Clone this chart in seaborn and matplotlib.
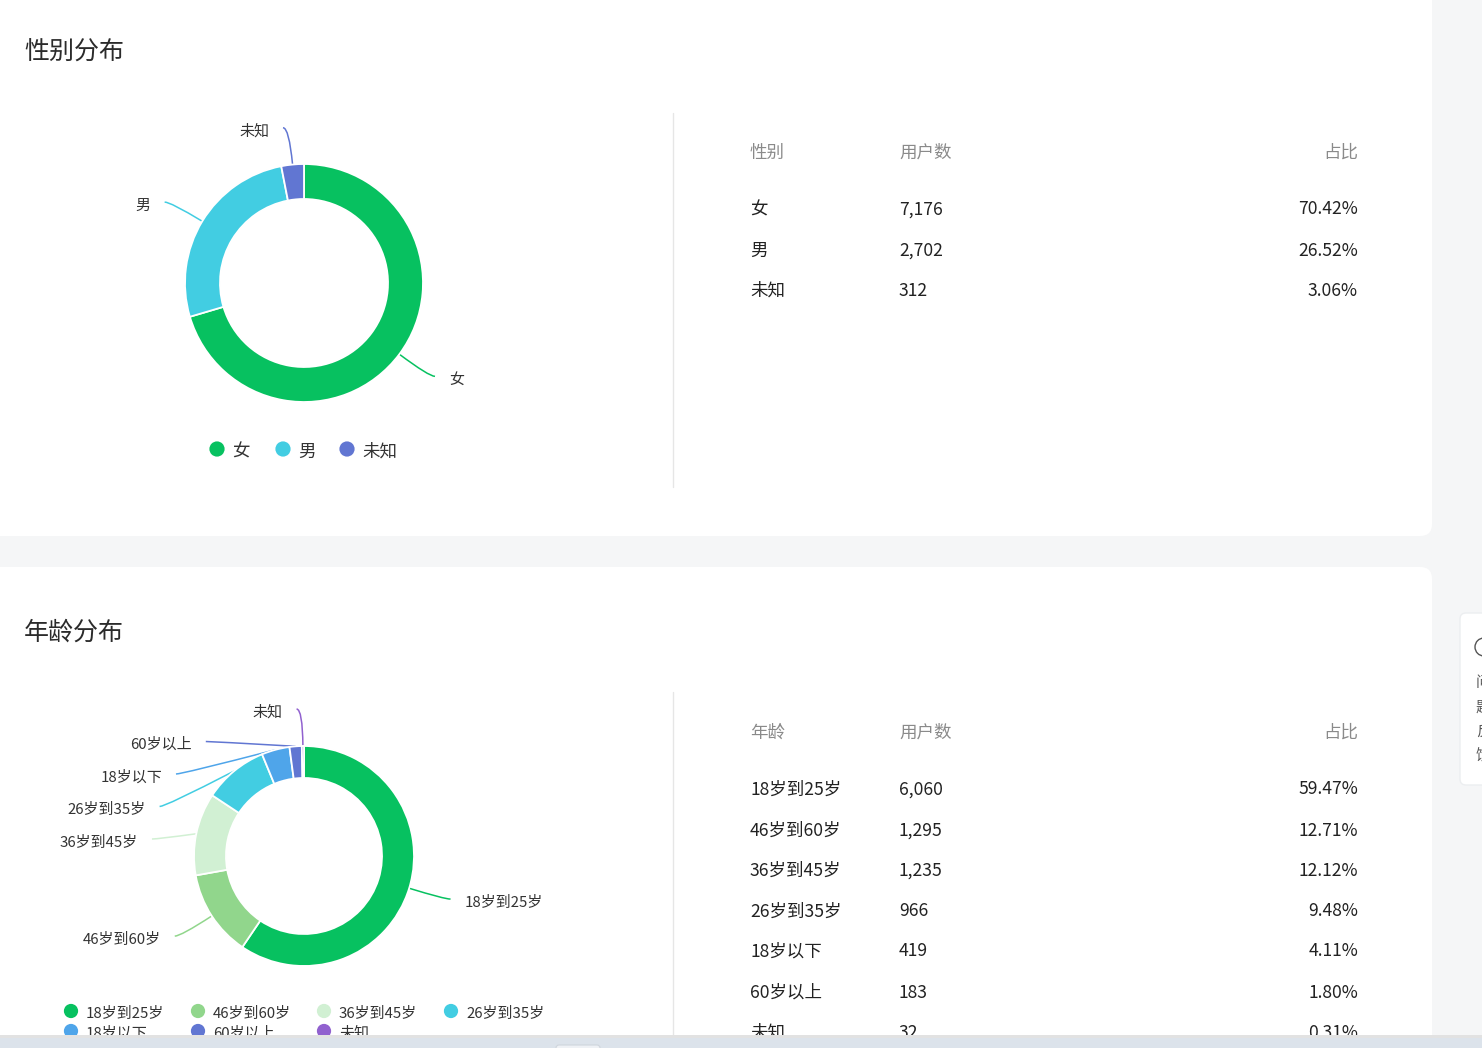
import numpy as np
import matplotlib
matplotlib.use("Agg")
import matplotlib.pyplot as plt
import seaborn as sns
from matplotlib.patches import FancyBboxPatch, Rectangle, PathPatch
from matplotlib.path import Path

# ---------------- data ----------------
gender_labels = ["女", "男", "未知"]
gender_counts = [7176, 2702, 312]
gender_pct = ["70.42%", "26.52%", "3.06%"]
gender_colors = ["#07c160", "#42cde2", "#6176d2"]

age_labels = ["18岁到25岁", "46岁到60岁", "36岁到45岁", "26岁到35岁", "18岁以下", "60岁以上", "未知"]
age_counts = [6060, 1295, 1235, 966, 419, 183, 32]
age_pct = ["59.47%", "12.71%", "12.12%", "9.48%", "4.11%", "1.80%", "0.31%"]
age_colors = ["#07c160", "#91d68c", "#d1f0d3", "#42cde2", "#4fa5ea", "#6176d2", "#9161cf"]

W, H = 1482, 1048
sns.set_theme(style="white")
plt.rcParams["font.family"] = ["Noto Sans CJK SC", "DejaVu Sans"]

fig = plt.figure(figsize=(W / 100, H / 100), dpi=100)
fig.patch.set_facecolor("#f5f6f7")
ax = fig.add_axes([0, 0, 1, 1])
ax.set_facecolor("#f5f6f7")

PX = 0.72  # px -> pt
DY = 2.5   # text baseline nudge


def card(y0, y1):
    ax.add_patch(FancyBboxPatch((-30, y0), 1432 + 30, y1 - y0,
                                boxstyle="round,pad=0,rounding_size=12",
                                fc="white", ec="none", zorder=0))


card(-40, 536)
card(567, 1100)

# feedback widget on the right edge
ax.add_patch(FancyBboxPatch((1460, 613), 60, 172, boxstyle="round,pad=0,rounding_size=6",
                            fc="white", ec="#eceef0", lw=1, zorder=1))
ax.add_patch(matplotlib.patches.Circle((1484, 647), 9, fc="none", ec="#555555", lw=1, zorder=2))
for i, ch in enumerate(["问", "题", "反", "馈"]):
    ax.text(1476, 681 + i * 24 + DY, ch, fontsize=15 * PX, color="#555555",
            ha="left", va="center", zorder=2)

# separators
ax.plot([673, 673], [113, 487], color="#e6e6e6", lw=1, zorder=1)
ax.plot([673, 673], [692, 1040], color="#e6e6e6", lw=1, zorder=1)

# titles
ax.text(24, 50 + DY, "性别分布", fontsize=25 * PX, color="#2b2b2b", ha="left", va="center")
ax.text(24, 630 + DY, "年龄分布", fontsize=25 * PX, color="#2b2b2b", ha="left", va="center")


def donut(cx, cy, r, r_in, vals, labels, colors, L1=37, L2=6, gap=32.5, fs=15):
    wedges, _ = ax.pie(vals, colors=colors, radius=r, center=(cx, cy), startangle=-90,
                       counterclock=True, frame=True,
                       wedgeprops=dict(width=r - r_in, edgecolor="white", linewidth=1.3))
    for w in wedges:
        w.set_zorder(3)
    tot = float(sum(vals))
    cum = np.cumsum([0] + list(vals)) / tot
    mids = (cum[:-1] + cum[1:]) / 2
    ang = np.deg2rad(90 - 360 * mids)
    R2 = r + L1
    items = []
    for i, a in enumerate(ang):
        side = 1 if np.cos(a) > 0 else -1
        ny = cy - R2 * np.sin(a)
        items.append([i, a, side, ny])
    # push overlapping labels apart on each side
    for side in (1, -1):
        grp = sorted([it for it in items if it[2] == side], key=lambda t: t[3])
        prev = -1e9
        for it in grp:
            it[3] = max(it[3], prev + gap)
            prev = it[3]
    for i, a, side, y in items:
        ax_ = cx + r * np.cos(a)
        ay = cy - r * np.sin(a)
        dy = y - cy
        bx = cx + side * np.sqrt(max(R2 ** 2 - dy ** 2, 0))
        ex = bx + side * L2
        path = Path([(ax_, ay), (bx, y), (ex, y)], [Path.MOVETO, Path.CURVE3, Path.CURVE3])
        ax.add_patch(PathPatch(path, fc="none", ec=colors[i], lw=1.1, zorder=2))
        ax.text(ex + side * 14, y + DY + 1, labels[i], fontsize=fs * PX, color="#333333",
                ha="left" if side > 0 else "right", va="center", zorder=4)


donut(304, 283, 119, 84, gender_counts, gender_labels, gender_colors)
donut(304, 856, 110, 78, age_counts, age_labels, age_colors)

# legends
leg_g = [(217, 449), (283, 449), (347, 449)]
sns.scatterplot(x=[p[0] for p in leg_g], y=[p[1] for p in leg_g], hue=gender_labels,
                palette=gender_colors, s=120, edgecolor="none", legend=False, ax=ax, zorder=4)
for (x, y), lab in zip(leg_g, gender_labels):
    ax.text(x + 15, y + DY, lab, fontsize=17.5 * PX, color="#333333", ha="left", va="center")

col_x = [71, 198, 324, 451]
leg_a = [(col_x[i % 4], 1011 + 20 * (i // 4)) for i in range(len(age_labels))]
sns.scatterplot(x=[p[0] for p in leg_a], y=[p[1] for p in leg_a], hue=age_labels,
                palette=age_colors, s=105, edgecolor="none", legend=False, ax=ax, zorder=4)
for (x, y), lab in zip(leg_a, age_labels):
    ax.text(x + 15, y + DY, lab, fontsize=15 * PX, color="#333333", ha="left", va="center")


# tables
def table(head, y_head, y_rows, names, counts, pcts):
    hc = "#8a8a8a"
    ax.text(750, y_head + DY, head, fontsize=17.5 * PX, color=hc, ha="left", va="center")
    ax.text(899, y_head + DY, "用户数", fontsize=17.5 * PX, color=hc, ha="left", va="center")
    ax.text(1358, y_head + DY, "占比", fontsize=17.5 * PX, color=hc, ha="right", va="center")
    for y, n, c, p in zip(y_rows, names, counts, pcts):
        ax.text(750, y + DY, n, fontsize=17.5 * PX, color="#222222", ha="left", va="center")
        ax.text(899, y + DY, f"{c:,}", fontsize=17.5 * PX, color="#222222", ha="left", va="center")
        ax.text(1358, y + DY, p, fontsize=17.5 * PX, color="#222222", ha="right", va="center")


table("性别", 150, [207, 248, 288], gender_labels, gender_counts, gender_pct)
table("年龄", 730, [787, 828, 868, 909, 949, 990, 1030], age_labels, age_counts, age_pct)

# browser bottom bar
ax.add_patch(Rectangle((0, 1035), W, 20, fc="#e2e2e2", ec="none", zorder=10))
ax.add_patch(Rectangle((0, 1038), W, 20, fc="#dce3eb", ec="none", zorder=11))
ax.add_patch(FancyBboxPatch((556, 1045), 44, 10, boxstyle="round,pad=0,rounding_size=3",
                            fc="#eef1f5", ec="#cfd5dc", lw=0.8, zorder=12))

ax.set_xlim(0, W)
ax.set_ylim(H, 0)
ax.set_aspect("auto")
ax.axis("off")
fig.savefig("out.png", dpi=100, facecolor=fig.get_facecolor())
